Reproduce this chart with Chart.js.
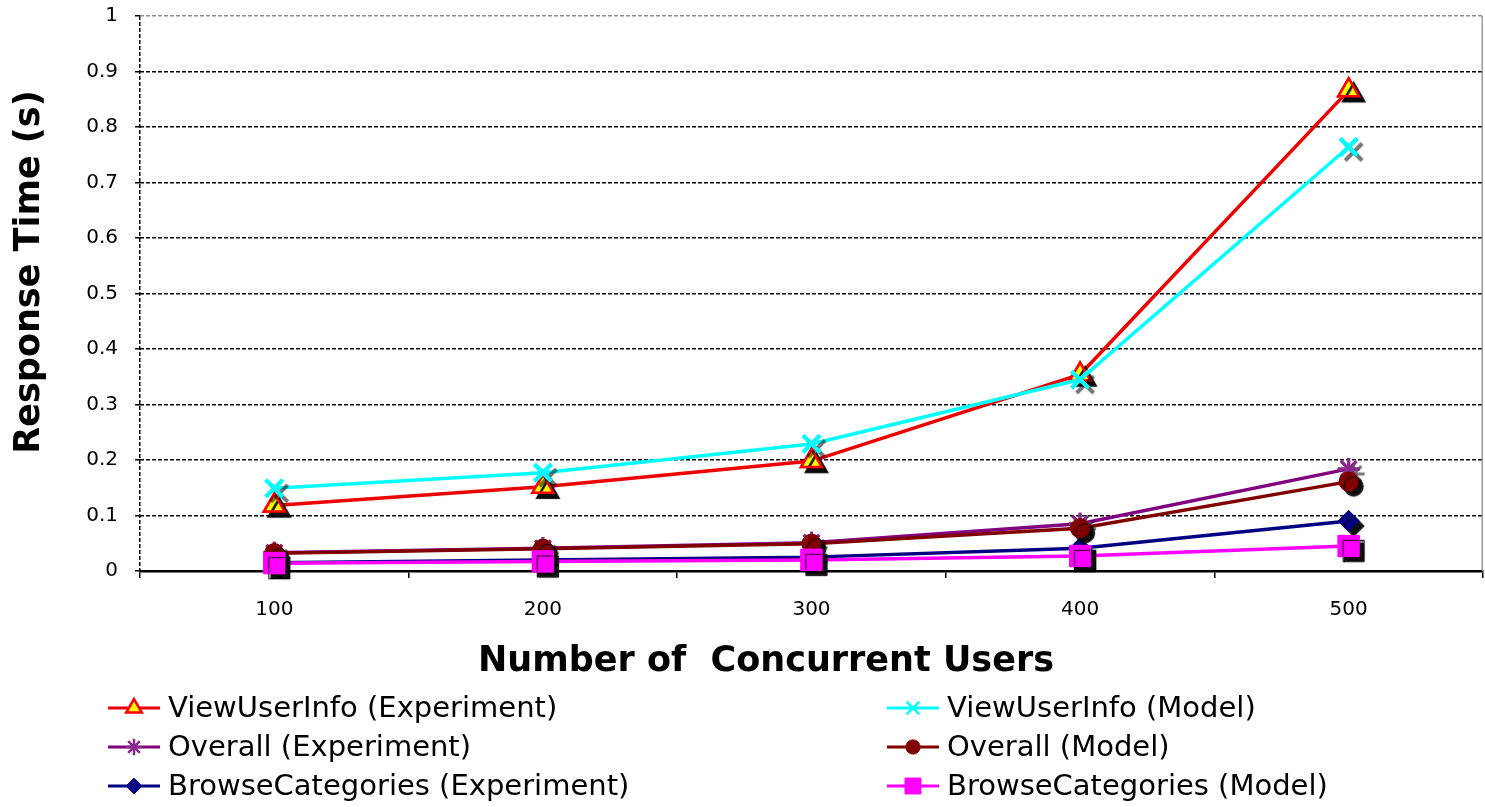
<!DOCTYPE html>
<html>
<head>
<meta charset="utf-8">
<title>Response Time vs Concurrent Users</title>
<script src="https://cdn.jsdelivr.net/npm/chart.js@4.4.1/dist/chart.umd.min.js"></script>
<style>
  html, body { margin: 0; padding: 0; background: #fff; overflow: hidden; }
  #wrap { width: 1485px; height: 807px; }
  #responseChart { display: block; }
</style>
</head>
<body>
<div id="wrap"><canvas id="responseChart" width="1485" height="807"></canvas></div>
<script>
// Concurrent users on the x axis
const users = ['100', '200', '300', '400', '500'];

// Response times in seconds
const viewUserInfoExp   = [0.118, 0.152, 0.198, 0.354, 0.866];
const viewUserInfoModel = [0.149, 0.177, 0.229, 0.345, 0.764];
const overallExp        = [0.033, 0.041, 0.051, 0.085, 0.184];
const overallModel      = [0.032, 0.040, 0.049, 0.077, 0.161];
const browseExp         = [0.015, 0.020, 0.025, 0.041, 0.090];
const browseModel       = [0.014, 0.017, 0.020, 0.027, 0.045];

// y axis range
const yMin = 0;
const yMax = 1;
const yStep = 0.1;

const FONT = '"DejaVu Sans", Verdana, sans-serif';

function series(label, values, line, marker) {
    return {
        label: label,
        data: values,
        borderColor: line,
        borderWidth: 3.5,
        tension: 0,
        pointStyle: marker.style,
        pointRadius: marker.radius,
        pointBackgroundColor: marker.fill,
        pointBorderColor: marker.stroke,
        pointBorderWidth: marker.width,
        markerShadow: marker.shadow,
        order: marker.order
    };
}

const datasets = [
    series('ViewUserInfo (Experiment)', viewUserInfoExp, '#ee0000',
        { style: 'triangle', radius: 12, fill: '#ffff00', stroke: '#ff0000', width: 2.5, shadow: 'rgba(0,0,0,0.95)', order: 6 }),
    series('ViewUserInfo (Model)', viewUserInfoModel, '#00ffff',
        { style: 'crossRot', radius: 12, fill: '#00ffff', stroke: '#00ffff', width: 4, shadow: 'rgba(0,0,0,0.55)', order: 3 }),
    series('Overall (Experiment)', overallExp, '#800080',
        { style: 'star', radius: 11, fill: '#800080', stroke: '#8a2a8a', width: 3, shadow: 'rgba(0,0,0,0.55)', order: 5 }),
    series('Overall (Model)', overallModel, '#800000',
        { style: 'circle', radius: 9.5, fill: '#800000', stroke: '#800000', width: 1, shadow: 'rgba(0,0,0,0.95)', order: 2 }),
    series('BrowseCategories (Experiment)', browseExp, '#000080',
        { style: 'rectRot', radius: 10.5, fill: '#000080', stroke: '#000080', width: 1, shadow: 'rgba(0,0,0,0.95)', order: 4 }),
    series('BrowseCategories (Model)', browseModel, '#ff00ff',
        { style: 'rect', radius: 15, fill: '#ff00ff', stroke: '#ff00ff', width: 1, shadow: 'rgba(0,0,0,0.95)', order: 1 })
];

// Marker drop shadows, plot frame, axis titles and the two-column legend
const excelDecor = {
    id: 'excelDecor',
    afterDatasetDraw(chart, args) {
        const ds = chart.data.datasets[args.index];
        const ctx = chart.ctx;
        ctx.save();
        ctx.shadowColor = ds.markerShadow;
        ctx.shadowOffsetX = 5;
        ctx.shadowOffsetY = 5;
        ctx.shadowBlur = 1;
        args.meta.data.forEach(pt => pt.draw(ctx, chart.chartArea));
        ctx.restore();
    },
    afterDraw(chart) {
        const ctx = chart.ctx;
        const area = chart.chartArea;

        ctx.save();
        ctx.strokeStyle = '#9a9a9a';
        ctx.lineWidth = 1.5;
        ctx.beginPath();
        ctx.moveTo(area.right - 0.75, area.top);
        ctx.lineTo(area.right - 0.75, area.bottom);
        ctx.stroke();

        ctx.fillStyle = '#000';
        ctx.textAlign = 'center';
        ctx.textBaseline = 'middle';
        ctx.font = `bold 35px ${FONT}`;
        ctx.fillText('Number of  Concurrent Users', 766, 662);
        ctx.translate(30, 272);
        ctx.rotate(-Math.PI / 2);
        ctx.fillText('Response Time (s)', 0, 0);
        ctx.restore();

        ctx.save();
        ctx.font = `29px ${FONT}`;
        ctx.textAlign = 'left';
        ctx.textBaseline = 'middle';
        chart.data.datasets.forEach((ds, i) => {
            const x0 = (i % 2) ? 887 : 108;
            const y = 708 + Math.floor(i / 2) * 39;
            ctx.strokeStyle = ds.borderColor;
            ctx.lineWidth = 3;
            ctx.beginPath();
            ctx.moveTo(x0, y);
            ctx.lineTo(x0 + 52, y);
            ctx.stroke();

            ctx.fillStyle = ds.pointBackgroundColor;
            ctx.strokeStyle = ds.pointBorderColor;
            ctx.lineWidth = Math.min(ds.pointBorderWidth, 2.5);
            Chart.helpers.drawPoint(ctx, {
                pointStyle: ds.pointStyle,
                radius: ds.pointRadius * 0.75,
                rotation: 0,
                borderWidth: ds.pointBorderWidth
            }, x0 + 26, y);

            ctx.fillStyle = '#000';
            ctx.fillText(ds.label, x0 + 60, y + 1);
        });
        ctx.restore();
    }
};

// scale label overflow is left out of the layout so the plot frame sits at fixed edges
function noScalePadding(scale) {
    scale.paddingTop = 0;
    scale.paddingBottom = 0;
    scale.paddingLeft = 0;
    scale.paddingRight = 0;
}

new Chart(document.getElementById('responseChart'), {
    type: 'line',
    data: { labels: users, datasets: datasets },
    plugins: [excelDecor],
    options: {
        responsive: false,
        animation: false,
        layout: { autoPadding: false, padding: { top: 16, right: 2, bottom: 117, left: 0 } },
        plugins: {
            legend: { display: false },
            tooltip: { enabled: false }
        },
        scales: {
            x: {
                offset: true,
                afterFit: scale => { noScalePadding(scale); scale.height = 119; },
                ticks: { color: '#000', padding: 20, font: { family: FONT, size: 20 } },
                grid: {
                    offset: true,
                    drawOnChartArea: true,
                    color: c => c.index === 0 ? '#000' : 'rgba(0,0,0,0)',
                    tickColor: '#000',
                    tickLength: 7,
                    tickBorderDash: [],
                    lineWidth: 1.5
                },
                border: { display: true, color: '#000', width: 2.5, dash: [4, 2] }
            },
            y: {
                min: yMin,
                max: yMax,
                afterFit: scale => { noScalePadding(scale); scale.width = 140; },
                ticks: {
                    stepSize: yStep,
                    color: '#000',
                    padding: 17,
                    font: { family: FONT, size: 20 },
                    callback: v => String(Math.round(v * 10) / 10)
                },
                grid: {
                    color: c => {
                        const v = c.tick ? Math.round(c.tick.value * 10) / 10 : null;
                        if (v === 0) return 'rgba(0,0,0,0)';
                        if (v === 1) return '#8c8c8c';
                        return '#000';
                    },
                    tickColor: '#000',
                    tickLength: 5,
                    tickBorderDash: [],
                    lineWidth: 1.5
                },
                border: { display: false, dash: [4, 2] }
            }
        }
    }
});
</script>
</body>
</html>
